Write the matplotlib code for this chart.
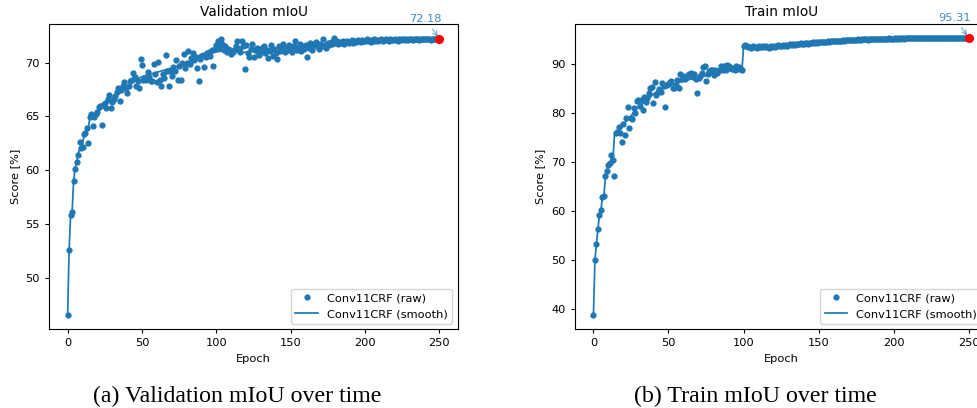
import matplotlib.pyplot as plt

# validation mIoU per epoch (raw)
val_raw = [
    46.5, 52.6, 55.8, 56.1, 59.0, 60.1, 60.8, 61.4, 62.6, 62.1,
    62.2, 63.4, 63.5, 63.9, 62.5, 64.9, 65.2, 64.1, 64.9, 65.2,
    65.4, 65.9, 66.0, 64.2, 66.1, 66.2, 65.8, 66.6, 67.0, 65.8,
    66.3, 66.6, 66.9, 67.3, 67.6, 66.4, 67.5, 67.8, 68.2, 67.6,
    67.2, 67.8, 68.3, 68.4, 69.0, 68.7, 67.8, 68.3, 67.6, 70.3,
    69.8, 68.4, 68.6, 68.4, 69.1, 68.7, 68.3, 68.3, 69.9, 68.9,
    68.2, 70.1, 68.4, 67.8, 68.9, 68.6, 70.7, 69.2, 67.8, 69.2,
    68.8, 69.6, 69.2, 70.2, 68.4, 69.7, 68.4, 70.0, 70.8, 69.5,
    70.0, 71.1, 69.9, 70.4, 70.9, 70.2, 70.5, 69.5, 68.3, 70.3,
    70.6, 70.7, 69.6, 70.5, 70.9, 71.0, 70.6, 71.2, 69.7, 71.3,
    71.6, 72.0, 71.4, 72.2, 71.7, 71.2, 71.5, 71.0, 71.3, 71.2,
    70.8, 71.0, 71.2, 71.5, 72.0, 71.3, 71.0, 72.0, 71.5, 69.4,
    71.6, 70.9, 70.5, 71.3, 71.7, 70.5, 71.2, 71.4, 71.0, 70.7,
    71.1, 71.4, 71.5, 70.9, 71.2, 70.4, 71.1, 71.6, 70.6, 71.3,
    70.9, 70.3, 71.5, 71.1, 71.3, 71.7, 71.0, 71.4, 71.2, 71.6,
    71.3, 71.0, 71.5, 72.0, 71.2, 71.4, 71.7, 71.1, 71.5, 71.3,
    71.6, 70.5, 71.4, 71.8, 71.2, 71.6, 71.85, 71.9, 71.5, 71.3,
    71.7, 71.5, 72.2, 71.6, 71.4, 71.8, 71.6, 71.9, 71.7, 72.3,
    71.8, 72.0, 71.7, 71.9, 71.8, 72.0, 71.7, 71.9, 72.0, 71.8,
    71.9, 72.1, 71.8, 72.0, 71.9, 72.1, 72.0, 71.9, 72.1, 72.0,
    72.0, 72.2, 72.0, 72.1, 71.9, 72.1, 72.2, 72.0, 72.1, 72.0,
    72.1, 72.2, 72.0, 72.1, 72.2, 72.1, 72.0, 72.2, 72.1, 72.1,
    72.2, 72.1, 72.0, 72.2, 72.1, 72.2, 72.2, 72.1, 72.2, 72.1,
    72.2, 72.2, 72.1, 72.2, 72.2, 72.2, 72.1, 72.2, 72.2, 72.2,
    72.2, 72.2, 72.2, 72.2, 72.1, 72.2, 72.2, 72.2, 72.2, 72.2,
    72.18,
]

# smoothed validation curve, sampled where it bends
val_smooth_epochs = [0, 1, 2, 3, 4, 5, 6, 7, 8, 9, 10, 11, 12, 13, 14, 15, 16, 18, 20,
                     25, 30, 35, 40, 45, 50, 55, 60, 65, 70, 75, 80, 85, 90, 95, 100,
                     105, 110, 115, 120, 125, 130, 140, 150, 160, 170, 180, 190, 200,
                     210, 220, 230, 240, 250]
val_smooth = [46.5, 52.6, 55.8, 56.1, 59.0, 60.1, 60.8, 61.4, 62.0, 62.2, 62.4, 63.2, 63.5,
              63.9, 64.0, 64.9, 65.0, 65.0, 65.4, 66.0, 66.6, 67.2, 67.8, 68.3, 68.7, 68.9,
              69.1, 69.3, 69.5, 69.7, 70.0, 70.3, 70.5, 70.8, 71.0, 71.1, 71.0, 71.0, 70.95,
              71.1, 71.2, 71.3, 71.5, 71.6, 71.7, 71.85, 71.95, 72.05, 72.1, 72.15, 72.2,
              72.2, 72.18]

# train mIoU per epoch (raw)
train_raw = [
    38.7, 50.1, 53.2, 56.3, 59.2, 60.1, 62.9, 63.0, 67.2, 68.2,
    69.3, 69.7, 71.4, 70.4, 67.2, 75.9, 76.2, 77.2, 76.0, 74.0,
    77.8, 75.5, 78.9, 81.2, 76.9, 78.9, 78.7, 81.0, 80.0, 82.5,
    82.7, 81.4, 82.6, 80.5, 83.3, 82.2, 83.0, 84.1, 85.0, 85.2,
    82.1, 86.4, 83.7, 84.2, 84.8, 84.2, 86.1, 85.5, 81.3, 85.6,
    86.0, 86.4, 86.6, 85.0, 85.0, 85.6, 86.7, 85.0, 88.0, 86.9,
    87.5, 86.9, 87.3, 87.8, 88.0, 88.1, 87.4, 87.9, 87.0, 84.1,
    87.1, 87.6, 88.2, 89.3, 89.6, 86.5, 88.0, 88.5, 88.8, 88.7,
    87.8, 88.7, 88.1, 88.5, 88.8, 89.5, 88.8, 89.5, 88.8, 89.7,
    89.5, 89.1, 89.0, 89.1, 88.8, 89.6, 89.0, 89.3, 88.9, 88.7,
    93.6, 93.8, 93.7, 93.4, 93.5, 93.3, 93.6, 93.4, 93.5, 93.3,
    93.6, 93.4, 93.5, 93.7, 93.4, 93.6, 93.5, 93.3, 93.6, 93.5,
    93.7, 93.5, 93.6, 93.8, 93.6, 93.7, 93.9, 93.6, 93.8, 93.7,
    93.9, 94.0, 93.8, 94.0, 93.9, 94.1, 94.0, 94.0, 94.2, 94.1,
    94.1, 94.3, 94.2, 94.1, 94.3, 94.2, 94.4, 94.3, 94.4, 94.3,
    94.4, 94.5, 94.4, 94.5, 94.5, 94.4, 94.6, 94.5, 94.6, 94.6,
    94.6, 94.7, 94.6, 94.7, 94.7, 94.6, 94.8, 94.7, 94.8, 94.8,
    94.8, 94.9, 94.8, 94.9, 94.9, 94.8, 95.0, 94.9, 94.9, 95.0,
    95.0, 95.0, 95.0, 94.9, 95.0, 95.1, 95.0, 95.0, 95.1, 95.0,
    95.1, 95.0, 95.1, 95.1, 95.0, 95.1, 95.1, 95.2, 95.1, 95.1,
    95.1, 95.2, 95.1, 95.2, 95.1, 95.2, 95.2, 95.1, 95.2, 95.2,
    95.2, 95.2, 95.2, 95.2, 95.3, 95.2, 95.3, 95.2, 95.3, 95.2,
    95.3, 95.3, 95.2, 95.3, 95.3, 95.3, 95.3, 95.3, 95.3, 95.3,
    95.3, 95.3, 95.3, 95.3, 95.3, 95.3, 95.3, 95.3, 95.3, 95.3,
    95.3, 95.3, 95.3, 95.3, 95.3, 95.3, 95.3, 95.3, 95.3, 95.3,
    95.31,
]

train_smooth_epochs = [0, 1, 2, 3, 4, 5, 6, 7, 8, 9, 10, 11, 12, 13, 14, 15, 17, 19, 21,
                       23, 25, 27, 30, 33, 36, 39, 42, 45, 48, 51, 55, 60, 65, 70, 75,
                       80, 85, 90, 95, 99, 100, 110, 120, 130, 140, 150, 160, 170, 180,
                       190, 200, 210, 220, 230, 240, 250]
train_smooth = [38.7, 50.1, 53.2, 56.3, 59.2, 60.1, 62.9, 63.0, 67.2, 68.2, 69.3, 69.7,
                70.9, 70.5, 75.6, 76.0, 76.4, 77.5, 78.0, 78.8, 79.3, 80.3, 81.3, 82.0,
                82.6, 83.6, 84.3, 84.7, 85.2, 85.6, 86.0, 86.5, 86.9, 87.1, 87.6, 88.0,
                88.3, 88.7, 89.0, 88.9, 93.5, 93.5, 93.6, 93.85, 94.15, 94.4, 94.6, 94.8,
                94.95, 95.05, 95.15, 95.2, 95.25, 95.28, 95.3, 95.31]

titles = ['Validation mIoU', 'Train mIoU']
captions = ['(a) Validation mIoU over time', '(b) Train mIoU over time']


def draw(ax, raw, sm_x, sm_y, title):
    x = list(range(len(raw)))
    ax.plot(x, raw, '.', color='tab:blue', ms=7, label='Conv11CRF (raw)')
    ax.plot(sm_x, sm_y, '-', color='tab:blue', lw=1.25, label='Conv11CRF (smooth)')
    # best / last value marker
    ax.plot(x[-1], raw[-1], 'o', color='red', ms=5.5, zorder=5)
    ax.annotate(f'{raw[-1]:.2f}', xy=(x[-1], raw[-1]), xytext=(-10, 11),
                textcoords='offset points', ha='center', va='bottom',
                color='tab:blue', alpha=0.85,
                arrowprops=dict(arrowstyle='->', color='tab:blue', alpha=0.6, lw=0.8))
    ax.set_title(title, fontsize=9.8)
    ax.set_xlabel('Epoch')
    ax.set_ylabel('Score [%]')
    ax.tick_params(length=3)
    ax.legend(loc='lower right')


plt.rcParams.update({'font.size': 8.2})
fig = plt.figure(figsize=(9.77, 4.08), dpi=100)
ax1 = fig.add_axes([0.0502, 0.1929, 0.4186, 0.7483])
ax2 = fig.add_axes([0.5882, 0.1929, 0.4225, 0.7483])

draw(ax1, val_raw, val_smooth_epochs, val_smooth, titles[0])
draw(ax2, train_raw, train_smooth_epochs, train_smooth, titles[1])

fig.text(237.5 / 977, 0.0147, captions[0], family='Liberation Serif', fontsize=17.2,
         ha='center', va='baseline')
fig.text(755.8 / 977, 0.0147, captions[1], family='Liberation Serif', fontsize=17.2,
         ha='center', va='baseline')

fig.savefig('out.png', dpi=100)
